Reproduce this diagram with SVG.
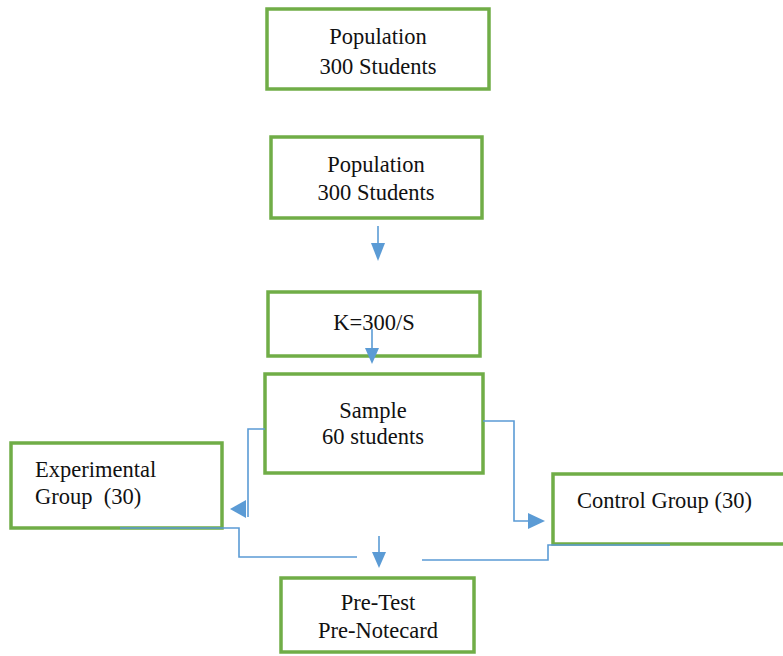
<svg xmlns="http://www.w3.org/2000/svg" width="783" height="656" viewBox="0 0 783 656">
<defs>
<style>
.box{fill:#fff;stroke:#70AD47;stroke-width:3.5}
.t{font-family:"Liberation Serif","Times New Roman","DejaVu Serif",serif;font-size:22.5px;fill:#111;white-space:pre}
.c{text-anchor:middle}
.ln{fill:none;stroke:#5B9BD5;stroke-width:1.6}
.ah{fill:#5B9BD5}
</style>
</defs>
<rect width="783" height="656" fill="#fff"/>
<g id="pop1"><rect class="box" x="267" y="9" width="222" height="80"/>
<text class="t c" x="378" y="44">Population</text><text class="t c" x="378" y="74">300 Students</text></g>
<g id="pop2"><rect class="box" x="271" y="137" width="211" height="81"/>
<text class="t c" x="376" y="172">Population</text><text class="t c" x="376" y="200">300 Students</text></g>
<g id="k"><rect class="box" x="268" y="292" width="212" height="64"/>
<text class="t c" x="374" y="330">K=300/S</text></g>
<g id="sample"><rect class="box" x="265" y="374" width="218" height="99"/>
<text class="t c" x="373" y="418">Sample</text><text class="t c" x="373" y="444">60 students</text></g>
<g id="exp"><rect class="box" x="11" y="443" width="211" height="85"/>
<text class="t" x="35" y="477">Experimental</text><text class="t" x="35" y="504" xml:space="preserve">Group  (30)</text></g>
<g id="ctrl"><rect class="box" x="553" y="474" width="232" height="70"/>
<text class="t" x="577" y="508">Control Group (30)</text></g>
<g id="pre"><rect class="box" x="281" y="578" width="193" height="74"/>
<text class="t c" x="378" y="610">Pre-Test</text><text class="t c" x="378" y="638">Pre-Notecard</text></g>
<g id="connectors">
<line class="ln" x1="378" y1="226" x2="378" y2="245"/>
<polygon class="ah" points="371,243 385,243 378,261"/>
<line class="ln" x1="372" y1="329" x2="372" y2="350"/>
<polygon class="ah" points="365,348 379,348 372,364"/>
<polyline class="ln" points="265,429 248,429 248,517"/>
<polygon class="ah" points="246,500 246,518 230,509"/>
<polyline class="ln" points="483,421 514,421 514,521 530,521"/>
<polygon class="ah" points="528,513 528,529 545,521"/>
<polyline class="ln" points="120,528 239,528 239,557 357,557"/>
<line class="ln" x1="379" y1="536" x2="379" y2="554"/>
<polygon class="ah" points="372,552 386,552 379,568"/>
<polyline class="ln" points="422,560 548,560 548,545 670,545"/>
</g>
</svg>
